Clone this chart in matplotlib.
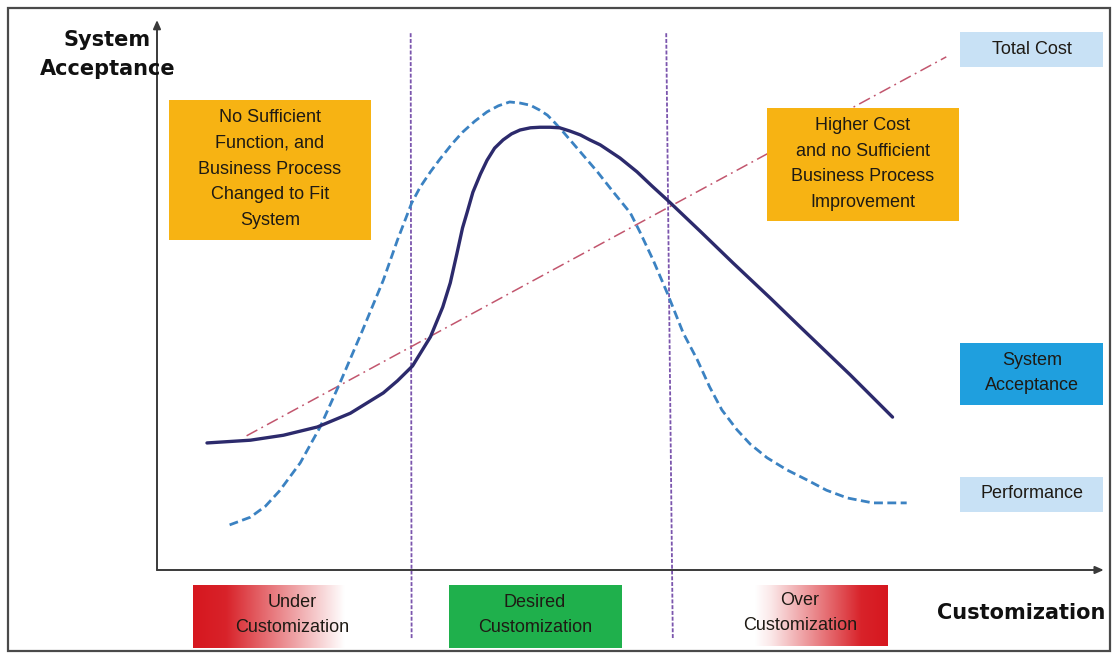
import numpy as np
import matplotlib
matplotlib.use("Agg")
import matplotlib.pyplot as plt
from matplotlib.patches import Rectangle

# ---- data (x: degree of customization 0-100, y: level 0-100) ----
acceptance_x = [5.3, 9.9, 13.4, 17.0, 20.5, 24.0, 25.5, 27.1, 29.0, 30.3, 31.1, 31.8,
                32.4, 32.9, 33.5, 34.3, 35.0, 35.8, 36.7, 37.6, 38.5, 39.6, 40.6, 41.7,
                42.7, 43.8, 44.9, 45.9, 47.0, 49.1, 50.9, 52.5, 54.1, 57.6, 61.1, 65.0,
                68.2, 73.5, 78.0]
acceptance_y = [23.1, 23.6, 24.5, 26.0, 28.5, 32.2, 34.4, 37.1, 42.4, 47.8, 52.2, 57.5,
                62.2, 65.1, 68.7, 72.0, 74.5, 76.7, 78.2, 79.3, 80.0, 80.4, 80.5, 80.5,
                80.4, 79.8, 79.1, 78.2, 77.3, 74.9, 72.4, 69.8, 67.3, 61.6, 55.8, 49.5,
                44.2, 35.5, 27.8]

performance_x = [7.7, 9.9, 11.5, 13.0, 15.2, 17.3, 19.4, 21.8, 24.0, 25.5, 27.0, 27.9,
                 29.0, 30.0, 31.3, 32.4, 33.7, 35.0, 36.2, 37.4, 38.5, 39.6, 40.6, 41.4,
                 42.2, 43.1, 44.0, 44.9, 46.7, 48.4, 50.2, 51.2, 52.6, 54.1, 55.8, 57.3,
                 58.6, 59.9, 61.5, 62.9, 64.7, 66.8, 68.9, 71.0, 73.2, 75.9, 79.5]
performance_y = [8.2, 9.6, 11.6, 14.4, 19.5, 26.0, 34.0, 43.6, 52.7, 60.0, 66.7, 69.6,
                 72.4, 74.7, 77.5, 79.6, 81.6, 83.3, 84.4, 85.1, 84.9, 84.5, 83.6, 82.7,
                 81.3, 79.6, 77.8, 76.0, 72.4, 68.7, 64.9, 61.5, 56.4, 50.4, 43.1, 38.2,
                 33.3, 29.1, 25.5, 22.9, 20.4, 18.2, 16.4, 14.5, 13.1, 12.2, 12.2]

cost_x = [9.5, 83.7]
cost_y = [24.4, 93.3]

# zone boundaries (x at top, x at bottom) and their vertical extent
boundary_left_x = [26.9, 27.0]
boundary_right_x = [54.0, 54.7]
boundary_y = [97.6, -12.7]

series_labels = ["Total Cost", "System\nAcceptance", "Performance"]
zone_labels = ["Under\nCustomization", "Desired\nCustomization", "Over\nCustomization"]
note_left = "No Sufficient\nFunction, and\nBusiness Process\nChanged to Fit\nSystem"
note_right = "Higher Cost\nand no Sufficient\nBusiness Process\nImprovement"

W, H = 1115, 655
fig = plt.figure(figsize=(W / 100, H / 100), dpi=100)
fig.patch.set_facecolor("white")

# ---- main plotting area ----
ax_l, ax_r, ax_t, ax_b = 157, 1100, 20, 570
ax = fig.add_axes([ax_l / W, (H - ax_b) / H, (ax_r - ax_l) / W, (ax_b - ax_t) / H], zorder=1)
ax.set_xlim(0, 100)
ax.set_ylim(0, 100)
ax.axis("off")

# axes with arrow heads
arrow_kw = dict(arrowstyle="-|>,head_length=0.5,head_width=0.22", color="#3a3a3a", lw=1.4,
                shrinkA=0, shrinkB=0)
ax.annotate("", xy=(0, 1.0), xytext=(0, 0), xycoords="axes fraction", arrowprops=arrow_kw)
ax.annotate("", xy=(1.004, 0), xytext=(0, 0), xycoords="axes fraction", arrowprops=arrow_kw)

# zone boundaries
for bx in (boundary_left_x, boundary_right_x):
    ax.plot(bx, boundary_y, color="#7b55ad", lw=1.3, dashes=(2.2, 1.0), clip_on=False, zorder=2)

# total cost (dash-dot)
ax.plot(cost_x, cost_y, color="#c2566e", lw=1.1, dashes=(8, 3, 1.2, 3), zorder=3)

# performance (dashed)
ax.plot(performance_x, performance_y, color="#3b82c2", lw=2.0, dashes=(3.2, 1.6),
        solid_joinstyle="round", dash_joinstyle="round", zorder=4)

# system acceptance (solid)
ax.plot(acceptance_x, acceptance_y, color="#2c2a6c", lw=2.4, solid_joinstyle="round",
        solid_capstyle="round", zorder=5)

# ---- overlay in pixel space for frame, notes and labels ----
ov = fig.add_axes([0, 0, 1, 1], zorder=3)
ov.set_xlim(0, W)
ov.set_ylim(H, 0)
ov.axis("off")
ov.patch.set_alpha(0)

# outer frame
ov.add_patch(Rectangle((7.5, 7.5), 1102, 643.5, fill=False, ec="#4a4a4a", lw=1.6))

box_font = dict(family="Liberation Sans", fontsize=13, color="#1e1a14",
                ha="center", va="center", linespacing=1.68)


def box(x0, y0, x1, y1, color):
    ov.add_patch(Rectangle((x0, y0), x1 - x0, y1 - y0, fc=color, ec="none"))


# note boxes
box(169, 100, 371, 240, "#f7b313")
ov.text(270, 169, note_left, **box_font)
box(767, 108, 959, 221, "#f7b313")
ov.text(863, 164, note_right, **box_font)

# series labels
box(960, 32, 1103, 67, "#c8e1f5")
ov.text(1032, 49, series_labels[0], **box_font)
box(960, 343, 1103, 405, "#1f9fde")
ov.text(1032, 373, series_labels[1], **box_font)
box(960, 477, 1103, 512, "#c8e1f5")
ov.text(1032, 494, series_labels[2], **box_font)


def gradient_box(x0, y0, x1, y1, stops):
    n = 256
    t = np.linspace(0, 1, n)
    red = np.array([0.84, 0.09, 0.12])
    white = np.array([1.0, 1.0, 1.0])
    frac = np.interp(t, stops[0], stops[1])
    img = (white[None, :] * (1 - frac[:, None]) + red[None, :] * frac[:, None])[None, :, :]
    ov.imshow(img, extent=(x0, x1, y1, y0), aspect="auto", interpolation="bilinear", zorder=1)


# zone boxes
gradient_box(193, 585, 358, 648, ([0, 0.2, 0.92, 1], [1, 0.95, 0.0, 0.0]))
ov.text(292, 615, zone_labels[0], **box_font)
box(449, 585, 622, 648, "#1fb04c")
ov.text(535, 615, zone_labels[1], **box_font)
gradient_box(755, 585, 888, 646, ([0, 0.12, 0.8, 1], [0.0, 0.1, 0.95, 1]))
ov.text(800, 613, zone_labels[2], **box_font)

ov.set_xlim(0, W)
ov.set_ylim(H, 0)

# axis titles
title_font = dict(family="DejaVu Sans", fontsize=15, fontweight="bold", color="#111111",
                  ha="center", va="center")
ov.text(107, 40, "System", **title_font)
ov.text(108, 69, "Acceptance", **title_font)
ov.text(1021, 613, "Customization", **title_font)

fig.savefig("out.png", dpi=100, facecolor="white")
